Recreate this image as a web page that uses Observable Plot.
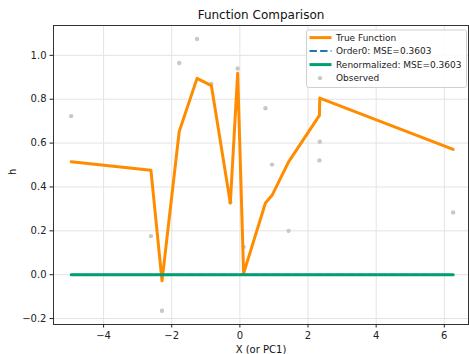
<!DOCTYPE html>
<html>
<head>
<meta charset="utf-8">
<script src="https://cdn.jsdelivr.net/npm/d3@7"></script>
<script src="https://cdn.jsdelivr.net/npm/@observablehq/plot@0.6"></script>
<style>
  html, body { margin: 0; padding: 0; background: white; }
</style>
</head>
<body>
<div id="chart"></div>
<script>
const xValues = [-4.95, -2.61, -2.285, -1.78, -1.257, -0.837, -0.28, -0.065, 0.11, 0.75, 0.945, 1.43, 2.335, 2.345, 6.26];
const trueValues = [0.515, 0.476, -0.028, 0.653, 0.895, 0.862, 0.327, 0.918, 0.006, 0.327, 0.362, 0.514, 0.726, 0.805, 0.571];
const observedValues = [0.723, 0.176, -0.164, 0.965, 1.075, 0.87, 0.33, 0.94, 0.127, 0.759, 0.502, 0.2, 0.521, 0.606, 0.284];
const order0Values = [0, 0, 0, 0, 0, 0, 0, 0, 0, 0, 0, 0, 0, 0, 0];
const renormValues = [0, 0, 0, 0, 0, 0, 0, 0, 0, 0, 0, 0, 0, 0, 0];
const xTicks = [-4, -2, 0, 2, 4, 6];
const yTicks = [-0.2, 0.0, 0.2, 0.4, 0.6, 0.8, 1.0];
const legendLabels = ["True Function", "Order0: MSE=0.3603", "Renormalized: MSE=0.3603", "Observed"];

const rows = xValues.map((x, i) => ({x, t: trueValues[i], o: observedValues[i], z0: order0Values[i], zr: renormValues[i]}));

const fmtX = d3.format("d");
const fmtY = d3.format(".1f");

const svg = Plot.plot({
  width: 469,
  height: 354,
  marginLeft: 53,
  marginRight: 1,
  marginTop: 25,
  marginBottom: 30,
  style: {fontFamily: "DejaVu Sans", fontSize: "10px", color: "#222", background: "white"},
  x: {domain: [-5.47, 6.71]},
  y: {domain: [-0.227, 1.136]},
  marks: [
    Plot.gridX(xTicks, {stroke: "#e3e3e3", strokeOpacity: 1}),
    Plot.gridY(yTicks, {stroke: "#e3e3e3", strokeOpacity: 1}),
    Plot.dot(rows, {x: "x", y: "o", r: 2.2, fill: "#c8c8c8", stroke: null}),
    Plot.line(rows, {x: "x", y: "t", stroke: "#ff8c00", strokeWidth: 3}),
    Plot.line(rows, {x: "x", y: "z0", stroke: "#1f77b4", strokeWidth: 2, strokeDasharray: "7.4,3.2"}),
    Plot.line(rows, {x: "x", y: "zr", stroke: "#009e73", strokeWidth: 3}),
    Plot.frame({stroke: "#333", strokeWidth: 1}),
    Plot.axisX({ticks: xTicks, tickFormat: fmtX, tickSize: 3.5, tickPadding: 3.5, label: null, fontSize: 10}),
    Plot.axisY({ticks: yTicks, tickFormat: fmtY, tickSize: 3.5, tickPadding: 3.5, label: null, fontSize: 10}),
    Plot.text(["Function Comparison"], {text: d => d, frameAnchor: "top", lineAnchor: "middle", dy: -10, fontSize: 12, fill: "#111"}),
    Plot.text(["X (or PC1)"], {text: d => d, frameAnchor: "bottom", lineAnchor: "middle", dy: 25, fontSize: 10, fill: "#111"}),
    Plot.text(["h"], {text: d => d, frameAnchor: "left", dx: -41, rotate: -90, fontSize: 10, fill: "#111"})
  ]
});

// Legend
const g = d3.select(svg).append("g").attr("font-family", "DejaVu Sans").attr("font-size", "9px").attr("text-anchor", "start");
g.append("rect").attr("x", 306.5).attr("y", 30).attr("width", 160).attr("height", 57.5)
  .attr("rx", 2).attr("fill", "white").attr("fill-opacity", 0.85).attr("stroke", "#d0d0d0");
const ys = [37.6, 51.1, 64.6, 78.1];
const styles = [
  {stroke: "#ff8c00", w: 3, dash: null},
  {stroke: "#1f77b4", w: 2, dash: "7.4,3.2"},
  {stroke: "#009e73", w: 3, dash: null}
];
styles.forEach((s, i) => {
  g.append("line").attr("x1", 309.5).attr("x2", 331.5).attr("y1", ys[i]).attr("y2", ys[i])
    .attr("stroke", s.stroke).attr("stroke-width", s.w).attr("stroke-dasharray", s.dash);
});
g.append("circle").attr("cx", 320).attr("cy", ys[3]).attr("r", 2.2).attr("fill", "#c8c8c8");
legendLabels.forEach((t, i) => {
  g.append("text").attr("x", 336).attr("y", ys[i]).attr("dy", "0.35em").attr("text-anchor", "start").attr("fill", "#222").text(t);
});

document.getElementById("chart").appendChild(svg);
</script>
</body>
</html>
